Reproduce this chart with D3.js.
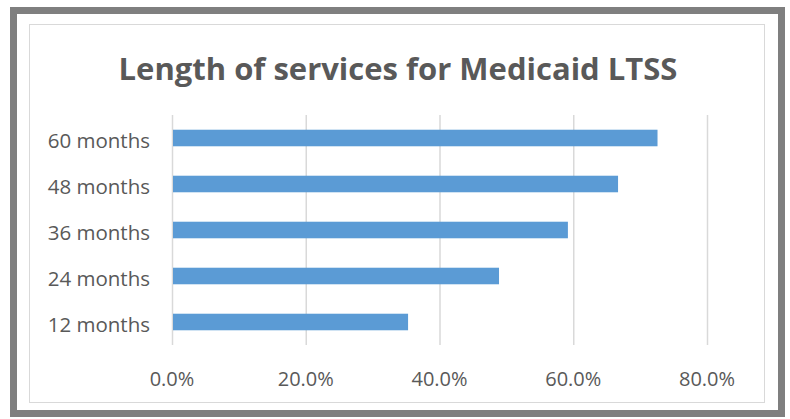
<!DOCTYPE html>
<html>
<head>
<meta charset="utf-8">
<script src="https://d3js.org/d3.v7.min.js"></script>
<style>
  body { margin: 0; background: #ffffff; }
  text { font-family: "Open Sans", "Liberation Sans", sans-serif; fill: #595959; }
</style>
</head>
<body>
<div id="chart"></div>
<script>
// data
var categories = ["60 months", "48 months", "36 months", "24 months", "12 months"];
var values = [72.6, 66.7, 59.2, 48.9, 35.3];
var ticks = [0, 20, 40, 60, 80];

var svg = d3.select("#chart")
    .append("svg")
    .attr("width", 790)
    .attr("height", 419)

// outer thick frame
svg.append("rect")
    .attr("x", 13.5)
    .attr("y", 10.5)
    .attr("width", 768)
    .attr("height", 403)
    .attr("fill", "none")
    .attr("stroke", "#7f7f7f")
    .attr("stroke-width", 7)

// inner chart border
svg.append("rect")
    .attr("x", 29.5)
    .attr("y", 24.5)
    .attr("width", 735)
    .attr("height", 378)
    .attr("fill", "#ffffff")
    .attr("stroke", "#d9d9d9")
    .attr("stroke-width", 1)

svg.append("text")
    .attr("x", 398)
    .attr("y", 80)
    .attr("text-anchor", "middle")
    .style("font-size", "31px")
    .style("font-weight", "bold")
    .text("Length of services for Medicaid LTSS");

var x = d3.scaleLinear()
    .domain([0, 80])
    .range([172, 707]);

var y = d3.scaleBand()
    .domain(categories)
    .range([115, 345])
    .paddingInner(0.64)
    .paddingOuter(0.32);

// gridlines
svg.append("g")
    .selectAll("line")
    .data(ticks)
    .join("line")
    .attr("x1", d => x(d) + 0.5)
    .attr("x2", d => x(d) + 0.5)
    .attr("y1", 115)
    .attr("y2", 345)
    .attr("stroke", "#d9d9d9")
    .attr("stroke-width", 1.5)

svg.append("g")
    .selectAll("rect")
    .data(values)
    .join("rect")
    .attr("x", x(0) + 1)
    .attr("y", (d, i) => y(categories[i]))
    .attr("width", d => x(d) - x(0) - 1)
    .attr("height", y.bandwidth())
    .attr("fill", "#5b9bd5")

// x tick labels
svg.append("g")
    .selectAll("text")
    .data(ticks)
    .join("text")
    .attr("x", d => x(d))
    .attr("y", 386)
    .attr("text-anchor", "middle")
    .style("font-size", "20px")
    .text(d => d.toFixed(1) + "%");

// category labels
svg.append("g")
    .selectAll("text")
    .data(categories)
    .join("text")
    .attr("x", 150)
    .attr("y", d => y(d) + y.bandwidth() / 2)
    .attr("dy", "0.47em")
    .attr("text-anchor", "end")
    .style("font-size", "20.5px")
    .text(d => d);
</script>
</body>
</html>
